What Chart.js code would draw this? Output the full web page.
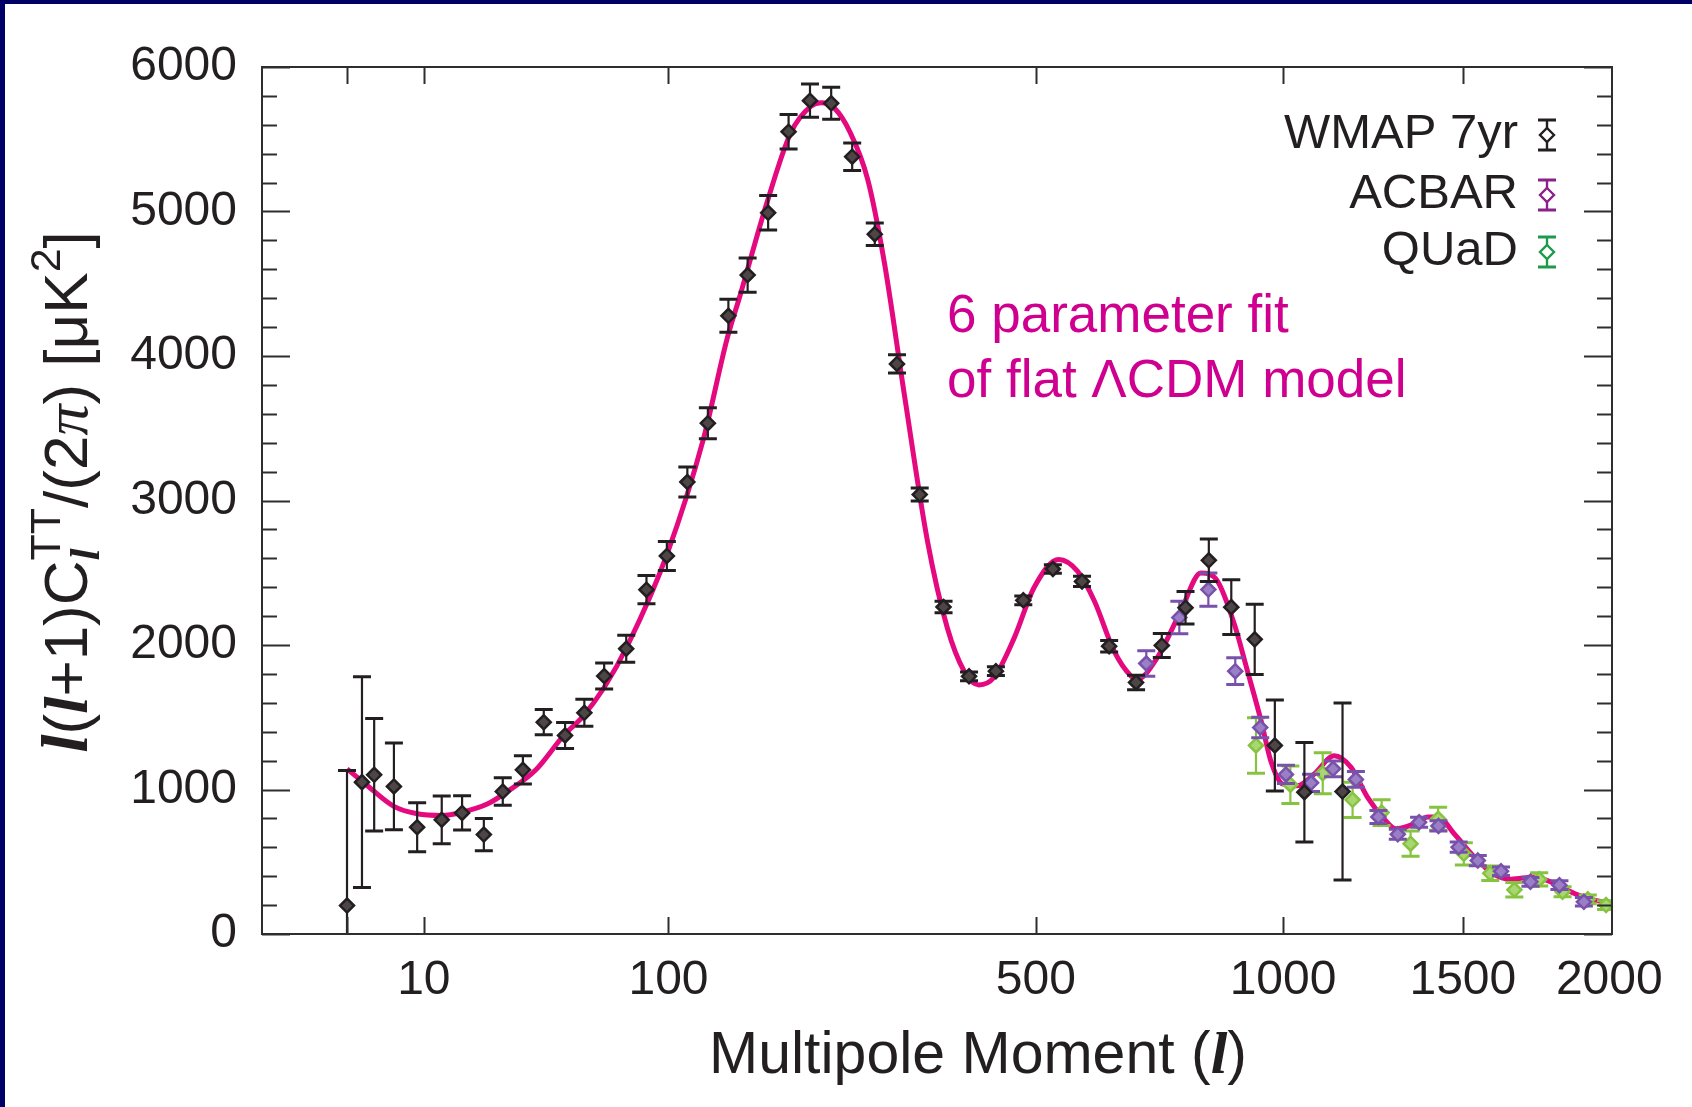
<!DOCTYPE html>
<html>
<head>
<meta charset="utf-8">
<title>CMB temperature power spectrum</title>
<script src="https://cdn.jsdelivr.net/npm/chart.js@4.4.1/dist/chart.umd.min.js"></script>
<style>
  html, body { margin: 0; padding: 0; background: #ffffff; }
  body { width: 1692px; height: 1107px; overflow: hidden; }
  canvas { display: block; }
</style>
</head>
<body>
<canvas id="spectrum" width="1692" height="1107"></canvas>
<script>
// ---- Data -------------------------------------------------------------
// WMAP 7-year binned spectrum: multipole, band power [uK^2], 1-sigma error
const WMAP_L = [2, 3, 4, 6, 9, 13, 17, 22, 27, 33, 40, 48, 56, 65, 76, 87, 99, 112, 126, 141,
  156, 173, 191, 211, 232, 254, 279, 305, 333, 364, 399, 438, 480, 528, 578, 627, 678, 729,
  778, 828, 878, 932, 980, 1053, 1152];
const WMAP_V = [197, 1051, 1102, 1021, 739, 790, 838, 688, 986, 1136, 1466, 1374, 1531, 1785,
  1974, 2383, 2616, 3128, 3535, 4278, 4560, 4991, 5552, 5767, 5749, 5379, 4843, 3945, 3041,
  2263, 1783, 1819, 2309, 2526, 2440, 1992, 1741, 1997, 2258, 2586, 2262, 2039, 1305, 981, 986];
const WMAP_E = [935, 730, 390, 300, 170, 165, 118, 112, 95, 98, 87, 90, 94, 90, 93, 98, 100,
  104, 107, 114, 118, 119, 119, 115, 110, 95, 78, 63, 45, 40, 30, 30, 30, 30, 35, 40, 50, 83,
  113, 147, 190, 243, 315, 344, 613];

// ACBAR
const ACBAR_L = [698, 765, 827, 887, 945, 1007, 1070, 1127, 1188, 1250, 1305, 1367, 1425,
  1487, 1547, 1622, 1720, 1820, 1907];
const ACBAR_V = [1872, 2190, 2384, 1819, 1429, 1104, 1046, 1143, 1070, 810, 690, 773, 748,
  601, 508, 434, 361, 338, 223];
const ACBAR_E = [88, 112, 115, 92, 71, 63, 60, 55, 55, 45, 35, 35, 35, 35, 35, 30, 30, 30, 30];

// QUaD
const QUAD_L = [935, 1018, 1100, 1179, 1259, 1342, 1424, 1503, 1587, 1666, 1750, 1831, 1921, 1988];
const QUAD_V = [1305, 1033, 1113, 929, 840, 625, 798, 555, 420, 306, 378, 292, 240, 200];
const QUAD_E = [192, 130, 142, 122, 89, 87, 80, 77, 50, 50, 46, 35, 30, 30];

// Best-fit six-parameter flat LCDM spectrum
const MODEL_L = [2, 3.4, 6, 9, 13, 17, 23, 28, 37, 48, 55, 65, 77, 99, 123, 140, 150, 172, 193,
  212, 222, 235, 252, 271, 290, 314, 343, 369, 392, 413, 435, 466, 497, 538, 570, 600, 636,
  668, 680, 720, 768, 811, 847, 885, 915, 947, 970, 999, 1036, 1078, 1130, 1175, 1220, 1266,
  1300, 1353, 1393, 1424, 1473, 1536, 1595, 1655, 1733, 1802, 1873, 1945, 2010];
const MODEL_V = [1143, 1028, 883, 832, 820, 843, 901, 981, 1131, 1385, 1499, 1706, 2005, 2626,
  3430, 4119, 4419, 5062, 5545, 5729, 5752, 5717, 5545, 5223, 4649, 3729, 2716, 2119, 1820,
  1724, 1775, 2051, 2396, 2592, 2511, 2304, 1959, 1786, 1763, 1913, 2235, 2499, 2442, 2143,
  1821, 1476, 1200, 1038, 1026, 1107, 1233, 1153, 946, 797, 728, 763, 809, 809, 694, 533,
  418, 379, 395, 349, 280, 234, 211];

// Axis ticks
const X_LABEL_TICKS = [10, 100, 500, 1000, 1500, 2000];
const X_MARK_TICKS = [2, 10, 100, 500, 1000, 1500];
const Y_MAJOR_STEP = 1000;
const Y_MINOR_STEP = 200;

// ---- Styling ----------------------------------------------------------
const SANS = '"Liberation Sans", Arial, Helvetica, sans-serif';
const SERIF = '"Liberation Serif", "Times New Roman", serif';
const INK = '#231f20';
const FRAME = '#2e2e2e';
const NAVY = '#000066';
const SERIES = [
  { name: 'WMAP 7yr', L: WMAP_L, V: WMAP_V, E: WMAP_E, color: '#231f20', fill: '#4d4546', key: '#231f20' },
  { name: 'ACBAR', L: ACBAR_L, V: ACBAR_V, E: ACBAR_E, color: '#7852aa', fill: '#9a7fc6', key: '#8a2389' },
  { name: 'QUaD', L: QUAD_L, V: QUAD_V, E: QUAD_E, color: '#86c440', fill: '#a8d670', key: '#1e9a4c' }
];

// ---- Multipole axis: linear in l^0.4 ----------------------------------
const EXP = 0.4;
class RootScale extends Chart.LinearScale {
  static id = 'root';
  static defaults = {};
  buildTicks() {
    return X_LABEL_TICKS.map(v => ({ value: v }));
  }
  configure() {
    super.configure();
    this._tLo = Math.pow(Math.max(this.min, 0), EXP);
    this._tHi = Math.pow(this.max, EXP);
  }
  getPixelForValue(v) {
    const t = Math.pow(Math.max(v, 0), EXP);
    return this.getPixelForDecimal((t - this._tLo) / (this._tHi - this._tLo));
  }
  getValueForPixel(p) {
    const t = this._tLo + this.getDecimalForPixel(p) * (this._tHi - this._tLo);
    return Math.pow(Math.max(t, 0), 1 / EXP);
  }
}
Chart.register(RootScale);

// ---- Helpers ----------------------------------------------------------
function drawRuns(ctx, runs) {
  // runs: {text, font, dy, advance}
  let total = 0;
  runs.forEach(r => {
    ctx.font = r.font;
    r.w = ctx.measureText(r.text).width;
    if (r.advance !== false) total += r.w;
  });
  let x = -total / 2;
  runs.forEach(r => {
    ctx.font = r.font;
    ctx.fillText(r.text, x, r.dy || 0);
    if (r.advance !== false) x += r.w;
  });
}

function drawErrorSymbol(ctx, x, y, half, color, fill, lw) {
  ctx.strokeStyle = color;
  ctx.lineWidth = lw;
  ctx.beginPath();
  ctx.moveTo(x, y - half); ctx.lineTo(x, y + half);
  ctx.stroke();
  ctx.lineWidth = lw + 0.8;
  ctx.beginPath();
  ctx.moveTo(x - 9, y - half); ctx.lineTo(x + 9, y - half);
  ctx.moveTo(x - 9, y + half); ctx.lineTo(x + 9, y + half);
  ctx.stroke();
  ctx.lineWidth = lw;
  ctx.fillStyle = fill;
  ctx.beginPath();
  ctx.moveTo(x, y - 7); ctx.lineTo(x + 7, y); ctx.lineTo(x, y + 7); ctx.lineTo(x - 7, y);
  ctx.closePath();
  ctx.fill(); ctx.stroke();
}

// ---- Decorations: error bars, frame, ticks, titles, key, note ----------
const decor = {
  id: 'decor',
  beforeDraw(chart) {
    const ctx = chart.ctx;
    ctx.save();
    ctx.fillStyle = '#ffffff';
    ctx.fillRect(0, 0, chart.width, chart.height);
    ctx.fillStyle = NAVY;
    ctx.fillRect(0, 0, 5, chart.height);
    ctx.fillRect(0, 0, chart.width, 4);
    ctx.restore();
  },
  beforeDatasetDraw(chart, args) {
    const s = SERIES[args.index];
    if (!s) return;
    const { ctx, chartArea: a } = chart;
    const xs = chart.scales.x, ys = chart.scales.y;
    ctx.save();
    ctx.beginPath();
    ctx.rect(a.left, a.top, a.right - a.left, a.bottom - a.top);
    ctx.clip();
    ctx.strokeStyle = s.color;
    s.L.forEach((l, i) => {
      const px = xs.getPixelForValue(l);
      const yHi = ys.getPixelForValue(s.V[i] + s.E[i]);
      const yLo = ys.getPixelForValue(s.V[i] - s.E[i]);
      ctx.lineWidth = 2.2;
      ctx.beginPath();
      ctx.moveTo(px, yHi); ctx.lineTo(px, yLo);
      ctx.stroke();
      ctx.lineWidth = 3;
      ctx.beginPath();
      ctx.moveTo(px - 9, yHi); ctx.lineTo(px + 9, yHi);
      ctx.moveTo(px - 9, yLo); ctx.lineTo(px + 9, yLo);
      ctx.stroke();
    });
    ctx.restore();
  },
  afterDatasetsDraw(chart) {
    const { ctx, chartArea: a } = chart;
    const xs = chart.scales.x, ys = chart.scales.y;
    ctx.save();
    ctx.strokeStyle = FRAME;
    ctx.lineWidth = 2;
    ctx.strokeRect(a.left, a.top, a.right - a.left, a.bottom - a.top);
    ctx.beginPath();
    for (let v = 0; v <= ys.max; v += Y_MINOR_STEP) {
      const py = Math.round(ys.getPixelForValue(v)) + 0.5;
      const len = v % Y_MAJOR_STEP === 0 ? 28 : 15;
      ctx.moveTo(a.left, py); ctx.lineTo(a.left + len, py);
      ctx.moveTo(a.right, py); ctx.lineTo(a.right - len, py);
    }
    X_MARK_TICKS.forEach(l => {
      const px = Math.round(xs.getPixelForValue(l)) + 0.5;
      ctx.moveTo(px, a.bottom); ctx.lineTo(px, a.bottom - 17);
      ctx.moveTo(px, a.top); ctx.lineTo(px, a.top + 17);
    });
    ctx.stroke();
    ctx.restore();
  },
  afterDraw(chart) {
    const { ctx } = chart;
    ctx.save();
    ctx.fillStyle = INK;
    ctx.textBaseline = 'alphabetic';
    ctx.textAlign = 'left';

    // x-axis title
    ctx.save();
    ctx.translate(978, 1073);
    drawRuns(ctx, [
      { text: 'Multipole Moment (', font: `59px ${SANS}` },
      { text: 'l', font: `bold italic 60px ${SERIF}` },
      { text: ')', font: `59px ${SANS}` }
    ]);
    ctx.restore();

    // y-axis title
    ctx.save();
    ctx.translate(87, 492);
    ctx.rotate(-Math.PI / 2);
    const B = 62, S = 43;
    drawRuns(ctx, [
      { text: 'l', font: `bold italic ${B + 4}px ${SERIF}` },
      { text: '(', font: `${B}px ${SANS}` },
      { text: 'l', font: `bold italic ${B}px ${SERIF}` },
      { text: '+1)C', font: `${B}px ${SANS}` },
      { text: 'l', font: `bold italic ${S}px ${SERIF}`, dy: 12, advance: false },
      { text: 'TT', font: `${S}px ${SANS}`, dy: -27 },
      { text: '/(2', font: `${B}px ${SANS}` },
      { text: 'π', font: `italic ${B}px ${SERIF}` },
      { text: ') [μK', font: `${B}px ${SANS}` },
      { text: '2', font: `${S}px ${SANS}`, dy: -27 },
      { text: ']', font: `${B}px ${SANS}` }
    ]);
    ctx.restore();

    // key
    const keyRows = [148, 208, 265];
    ctx.font = `49px ${SANS}`;
    ctx.textAlign = 'right';
    SERIES.forEach((s, i) => {
      ctx.fillStyle = INK;
      ctx.fillText(s.name, 1518, keyRows[i]);
      drawErrorSymbol(ctx, 1547, keyRows[i] - 13, 15, s.key, '#ffffff', 2.4);
    });

    // model note
    ctx.textAlign = 'left';
    ctx.fillStyle = '#cf0090';
    ctx.font = `53px ${SANS}`;
    ctx.fillText('6 parameter fit', 947, 332);
    ctx.fillText('of flat ΛCDM model', 947, 397);
    ctx.restore();
  }
};

// ---- Chart ------------------------------------------------------------
const datasets = SERIES.map(s => ({
  label: s.name,
  data: s.L.map((l, i) => ({ x: l, y: s.V[i] })),
  pointStyle: 'rectRot',
  pointRadius: 7,
  pointBorderWidth: 2.5,
  pointBackgroundColor: s.fill,
  pointBorderColor: s.color,
  showLine: false
}));
datasets.push({
  label: 'LCDM fit',
  type: 'line',
  data: MODEL_L.map((l, i) => ({ x: l, y: MODEL_V[i] })),
  borderColor: '#e5097f',
  borderWidth: 5,
  pointRadius: 0,
  cubicInterpolationMode: 'monotone',
  fill: false
});

new Chart(document.getElementById('spectrum'), {
  type: 'scatter',
  data: { datasets },
  options: {
    responsive: false,
    devicePixelRatio: 1,
    animation: false,
    layout: { padding: { left: 0, top: 67, right: 80, bottom: 0 } },
    plugins: { legend: { display: false }, tooltip: { enabled: false } },
    scales: {
      x: {
        type: 'root',
        min: 0,
        max: 2010,
        grid: { display: false, drawTicks: false },
        border: { display: false },
        ticks: {
          autoSkip: false,
          maxRotation: 0,
          padding: 18,
          color: INK,
          font: { family: SANS, size: 48 },
          callback: v => String(v)
        },
        afterFit(scale) { scale.height = 173; }
      },
      y: {
        type: 'linear',
        min: 0,
        max: 6000,
        grid: { display: false, drawTicks: false },
        border: { display: false },
        ticks: {
          stepSize: Y_MAJOR_STEP,
          padding: 25,
          color: INK,
          font: { family: SANS, size: 48 },
          callback: v => String(v)
        },
        afterFit(scale) { scale.width = 262; }
      }
    }
  },
  plugins: [decor]
});
</script>
</body>
</html>
